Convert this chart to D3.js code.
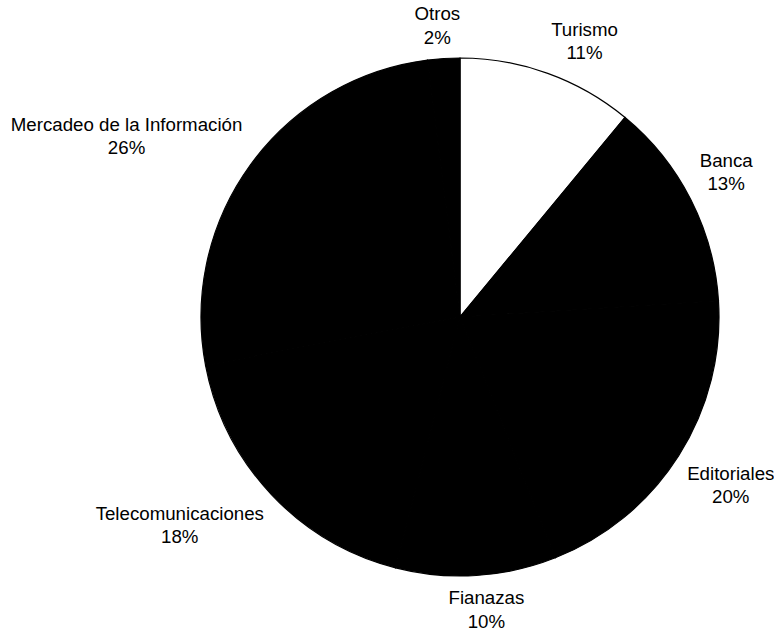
<!DOCTYPE html>
<html>
<head>
<meta charset="utf-8">
<script src="https://cdn.jsdelivr.net/npm/d3@7"></script>
<style>
  html, body { margin: 0; padding: 0; background: #fff; }
  #chart { width: 774px; height: 635px; }
  text { font-family: "Liberation Sans", Arial, sans-serif; font-size: 18.7px; fill: #000; }
</style>
</head>
<body>
<div id="chart"></div>
<script>
// Pie of sector shares, labels placed outside the rim (Excel-like)
const categories = ['Turismo', 'Banca', 'Editoriales', 'Fianazas', 'Telecomunicaciones', 'Mercadeo de la Información', 'Otros'];
const shares = [11, 13, 20, 10, 18, 26, 2];
const sliceColors = ['#ffffff', '#000000', '#000000', '#000000', '#000000', '#000000', '#000000'];

const W = 774, H = 635;
const cx = 460, cy = 317, R = 259;
const gap = 10;        // distance from rim to the nearest label corner
const lineH = 23.5;

const svg = d3.select('#chart').append('svg')
  .attr('width', W).attr('height', H);

const color = d3.scaleOrdinal(categories, sliceColors);
const rows = categories.map((c, i) => ({ name: c, value: shares[i] }));

const pie = d3.pie().value((d) => d.value).sort(null);
const arc = d3.arc().innerRadius(0).outerRadius(R);
const arcs = pie(rows);

const g = svg.append('g').attr('transform', `translate(${cx}, ${cy})`);

g.selectAll('path.slice').data(arcs).enter().append('path')
  .attr('class', 'slice')
  .attr('d', arc)
  .attr('fill', (d) => color(d.data.name))
  .attr('stroke', '#000')
  .attr('stroke-width', 1.2);

// labels
const labels = g.selectAll('g.lbl').data(arcs).enter().append('g').attr('class', 'lbl');

labels.each(function (d) {
  const sel = d3.select(this);
  const t = sel.append('text').attr('text-anchor', 'middle');
  t.append('tspan').attr('x', 0).attr('dy', 0).text(d.data.name);
  t.append('tspan').attr('x', 0).attr('dy', lineH).text(`${d.data.value}%`);

  const w = Math.max(...t.selectAll('tspan').nodes().map((n) => n.getComputedTextLength()));
  const h = lineH * 2;
  const a = (d.startAngle + d.endAngle) / 2;
  const s = Math.sin(a), c = Math.cos(a);
  const px = (R + gap) * s, py = -(R + gap) * c;
  const fx = Math.max(-1, Math.min(1, s * 4));
  const fy = Math.max(-1, Math.min(1, c * 4));
  const bx = px + fx * w / 2;
  const by = py - fy * h / 2;
  // first line centre sits half a line above the box centre
  t.attr('transform', `translate(${bx}, ${by - lineH / 2})`).attr('dominant-baseline', 'central');
  t.selectAll('tspan').attr('dominant-baseline', 'central');
});
</script>
</body>
</html>
